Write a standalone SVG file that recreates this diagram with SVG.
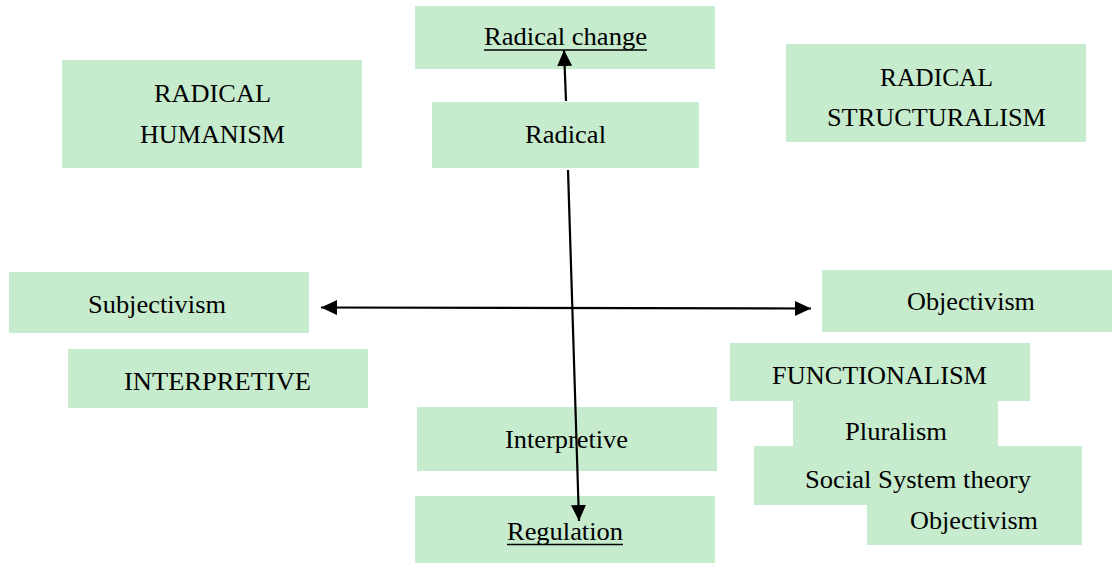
<svg xmlns="http://www.w3.org/2000/svg" width="1112" height="563" viewBox="0 0 1112 563">
  <style>
    .box { fill: #c6ebcd; }
    .lbl { font-family: 'Liberation Serif', 'Times New Roman', Times, serif; font-size: 25px; fill: #000; }
    .ul { stroke: #000; stroke-width: 1.5; }
    .conn { stroke: #000; stroke-width: 2.2; fill: none; }
  </style>
  <defs>
    <marker id="head" markerUnits="userSpaceOnUse" viewBox="0 0 16 15" refX="16" refY="7.5" markerWidth="16" markerHeight="15" orient="auto-start-reverse">
      <path d="M0,0 L16,7.5 L0,15 Z" fill="#000"/>
    </marker>
  </defs>

  <!-- quadrant labels and axis poles -->
  <g id="radical-change">
    <rect class="box" x="415" y="6" width="300" height="63"/>
    <text class="lbl" x="484" y="45" textLength="163" lengthAdjust="spacingAndGlyphs">Radical change</text>
    <line class="ul" x1="484" y1="50" x2="647" y2="50"/>
  </g>
  <g id="radical-humanism">
    <rect class="box" x="62" y="60" width="300" height="108"/>
    <text class="lbl" x="154" y="102" textLength="117" lengthAdjust="spacingAndGlyphs">RADICAL</text>
    <text class="lbl" x="140" y="143" textLength="145" lengthAdjust="spacingAndGlyphs">HUMANISM</text>
  </g>
  <g id="radical-structuralism">
    <rect class="box" x="786" y="44" width="300" height="98"/>
    <text class="lbl" x="880" y="86" textLength="113" lengthAdjust="spacingAndGlyphs">RADICAL</text>
    <text class="lbl" x="827" y="126" textLength="219" lengthAdjust="spacingAndGlyphs">STRUCTURALISM</text>
  </g>
  <g id="radical">
    <rect class="box" x="432" y="102" width="267" height="66"/>
    <text class="lbl" x="525" y="143" textLength="81" lengthAdjust="spacingAndGlyphs">Radical</text>
  </g>
  <g id="subjectivism">
    <rect class="box" x="9" y="272" width="300" height="61"/>
    <text class="lbl" x="88" y="313" textLength="138" lengthAdjust="spacingAndGlyphs">Subjectivism</text>
  </g>
  <g id="objectivism-axis">
    <rect class="box" x="822" y="270" width="290" height="62"/>
    <text class="lbl" x="907" y="310" textLength="128" lengthAdjust="spacingAndGlyphs">Objectivism</text>
  </g>
  <g id="interpretive-quadrant">
    <rect class="box" x="68" y="349" width="300" height="59"/>
    <text class="lbl" x="124" y="390" textLength="187" lengthAdjust="spacingAndGlyphs">INTERPRETIVE</text>
  </g>
  <g id="interpretive">
    <rect class="box" x="417" y="407" width="300" height="64"/>
    <text class="lbl" x="505" y="448" textLength="123" lengthAdjust="spacingAndGlyphs">Interpretive</text>
  </g>
  <g id="regulation">
    <rect class="box" x="415" y="496" width="300" height="67"/>
    <text class="lbl" x="507" y="540" textLength="116" lengthAdjust="spacingAndGlyphs">Regulation</text>
    <line class="ul" x1="507" y1="544.5" x2="623" y2="544.5"/>
  </g>
  <g id="functionalism">
    <rect class="box" x="730" y="343" width="300" height="58"/>
    <text class="lbl" x="772" y="384" textLength="215" lengthAdjust="spacingAndGlyphs">FUNCTIONALISM</text>
  </g>
  <g id="pluralism">
    <rect class="box" x="793" y="400" width="205" height="47"/>
    <text class="lbl" x="845" y="440" textLength="102" lengthAdjust="spacingAndGlyphs">Pluralism</text>
  </g>
  <g id="social-system-theory">
    <rect class="box" x="754" y="446" width="328" height="59"/>
    <text class="lbl" x="805" y="488" textLength="226" lengthAdjust="spacingAndGlyphs">Social System theory</text>
  </g>
  <g id="objectivism">
    <rect class="box" x="867" y="504" width="215" height="41"/>
    <text class="lbl" x="910" y="529" textLength="128" lengthAdjust="spacingAndGlyphs">Objectivism</text>
  </g>

  <!-- axes -->
  <g id="connectors">
    <line class="conn" x1="566" y1="101" x2="564" y2="50" marker-end="url(#head)"/>
    <line class="conn" x1="568" y1="170" x2="579" y2="521" marker-end="url(#head)"/>
    <line class="conn" x1="321" y1="307.5" x2="811" y2="308.5" marker-start="url(#head)" marker-end="url(#head)"/>
  </g>
</svg>
